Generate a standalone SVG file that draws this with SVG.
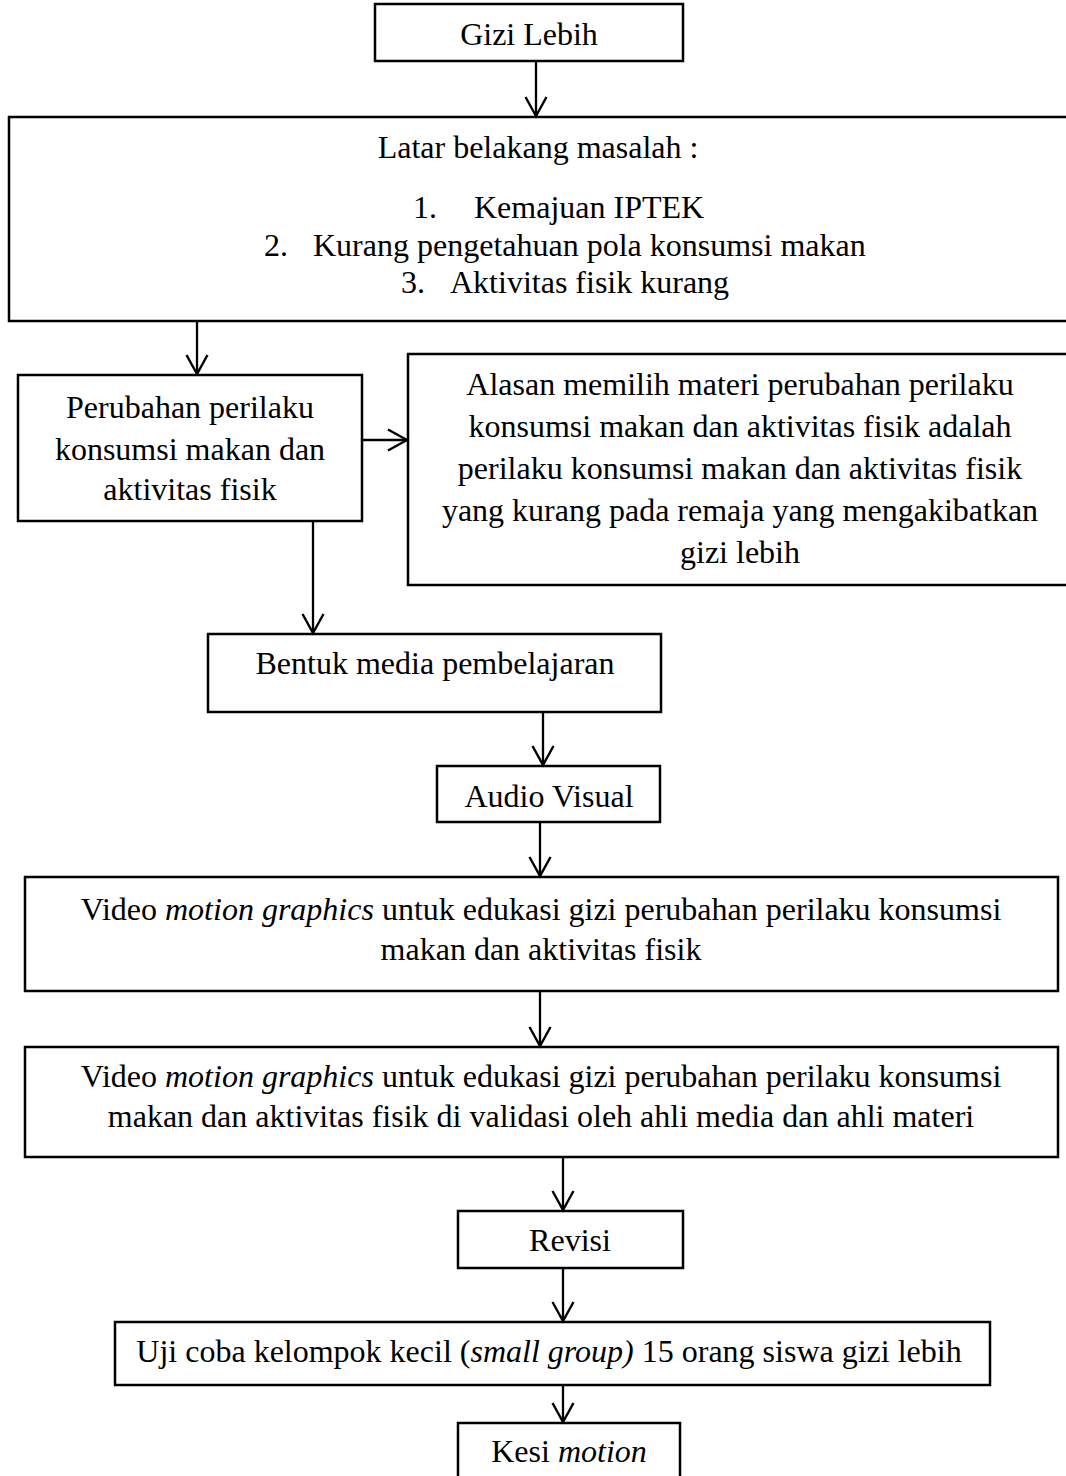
<svg xmlns="http://www.w3.org/2000/svg" width="1066" height="1476" viewBox="0 0 1066 1476">
<style>
.box{fill:#fff;stroke:#000;stroke-width:2.5}
.t{font-family:"Liberation Serif","Times New Roman",serif;font-size:32px;fill:#000}
.c{text-anchor:middle}
.con line{stroke:#000;stroke-width:2.3}
</style>
<defs>
<marker id="ah" markerUnits="userSpaceOnUse" markerWidth="24" markerHeight="26" refX="20" refY="12" orient="auto">
<path d="M1,1.5 L20,12 L1,22.5" fill="none" stroke="#000" stroke-width="2.4"/>
</marker>
</defs>
<rect width="1066" height="1476" fill="#fff"/>
<g id="n1"><rect class="box" x="375" y="4" width="308" height="57"/><text class="t c" x="529" y="45">Gizi Lebih</text></g>
<g id="n2"><rect class="box" x="9" y="117" width="1080" height="204"/>
<text class="t c" x="538" y="158">Latar belakang masalah :</text>
<text class="t" x="413" y="218">1.</text><text class="t" x="474" y="218">Kemajuan IPTEK</text>
<text class="t" x="264" y="256">2.</text><text class="t" x="313" y="256">Kurang pengetahuan pola konsumsi makan</text>
<text class="t" x="401" y="293">3.</text><text class="t" x="450" y="293">Aktivitas fisik kurang</text>
</g>
<g id="n3"><rect class="box" x="18" y="375" width="344" height="146"/>
<text class="t c" x="190" y="418">Perubahan perilaku</text>
<text class="t c" x="190" y="460">konsumsi makan dan</text>
<text class="t c" x="190" y="500">aktivitas fisik</text></g>
<g id="n4"><rect class="box" x="408" y="354" width="680" height="231"/>
<text class="t c" x="740" y="395">Alasan memilih materi perubahan perilaku</text>
<text class="t c" x="740" y="437">konsumsi makan dan aktivitas fisik adalah</text>
<text class="t c" x="740" y="479">perilaku konsumsi makan dan aktivitas fisik</text>
<text class="t c" x="740" y="521">yang kurang pada remaja yang mengakibatkan</text>
<text class="t c" x="740" y="563">gizi lebih</text></g>
<g id="n5"><rect class="box" x="208" y="634" width="453" height="78"/><text class="t c" x="435" y="674">Bentuk media pembelajaran</text></g>
<g id="n6"><rect class="box" x="437" y="766" width="223" height="56"/><text class="t c" x="549" y="807">Audio Visual</text></g>
<g id="n7"><rect class="box" x="25" y="877" width="1033" height="114"/>
<text class="t c" x="541" y="920">Video <tspan font-style="italic">motion graphics</tspan> untuk edukasi gizi perubahan perilaku konsumsi</text>
<text class="t c" x="541" y="960">makan dan aktivitas fisik</text></g>
<g id="n8"><rect class="box" x="25" y="1047" width="1033" height="110"/>
<text class="t c" x="541" y="1087">Video <tspan font-style="italic">motion graphics</tspan> untuk edukasi gizi perubahan perilaku konsumsi</text>
<text class="t c" x="541" y="1127">makan dan aktivitas fisik di validasi oleh ahli media dan ahli materi</text></g>
<g id="n9"><rect class="box" x="458" y="1211" width="225" height="57"/><text class="t c" x="570" y="1251">Revisi</text></g>
<g id="n10"><rect class="box" x="115" y="1322" width="875" height="63"/><text class="t c" x="549" y="1362">Uji coba kelompok kecil (<tspan font-style="italic">small group)</tspan> 15 orang siswa gizi lebih</text></g>
<g id="n11"><rect class="box" x="458" y="1423" width="222" height="70"/><text class="t c" x="569" y="1462">Kesi <tspan font-style="italic">motion</tspan></text></g>
<g class="con" id="connectors">
<line x1="536" y1="61" x2="536" y2="116" marker-end="url(#ah)"/>
<line x1="197" y1="321" x2="197" y2="374" marker-end="url(#ah)"/>
<line x1="362" y1="440" x2="407" y2="440" marker-end="url(#ah)"/>
<line x1="313" y1="521" x2="313" y2="633" marker-end="url(#ah)"/>
<line x1="543" y1="712" x2="543" y2="765" marker-end="url(#ah)"/>
<line x1="540" y1="822" x2="540" y2="876" marker-end="url(#ah)"/>
<line x1="540" y1="991" x2="540" y2="1046" marker-end="url(#ah)"/>
<line x1="563" y1="1157" x2="563" y2="1210" marker-end="url(#ah)"/>
<line x1="563" y1="1268" x2="563" y2="1321" marker-end="url(#ah)"/>
<line x1="563" y1="1385" x2="563" y2="1422" marker-end="url(#ah)"/>
</g>
</svg>
